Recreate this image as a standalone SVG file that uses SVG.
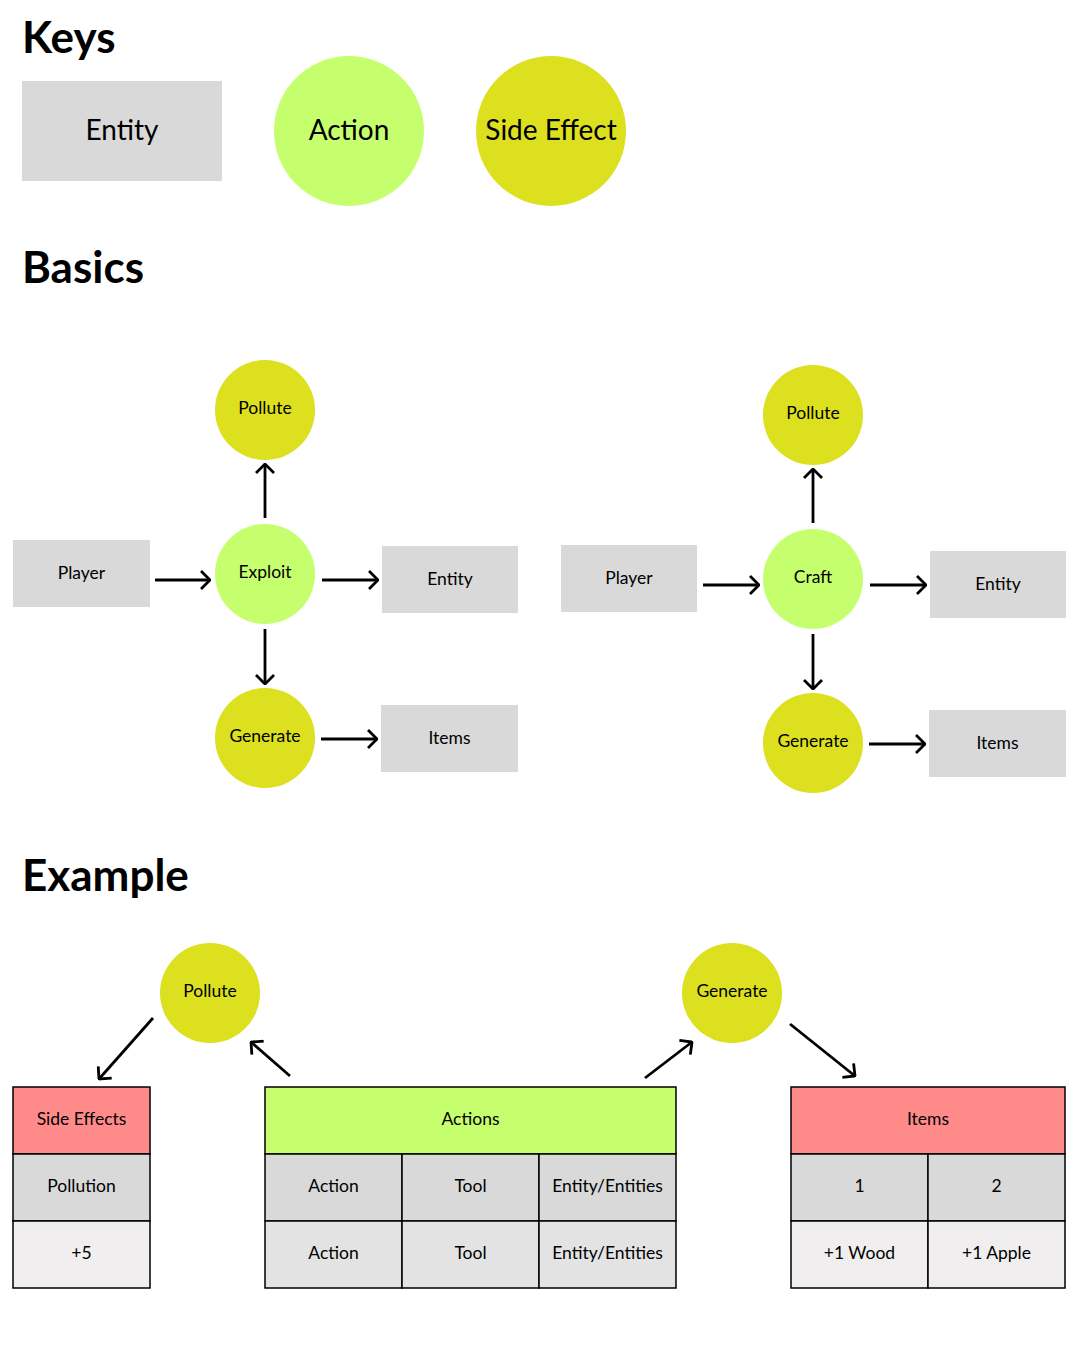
<svg xmlns="http://www.w3.org/2000/svg" width="1080" height="1346" viewBox="0 0 1080 1346">
<style>
text{font-family:Lato,"Open Sans","Liberation Sans",sans-serif;fill:#000;text-anchor:middle}
.h{font-weight:bold;font-size:44px;text-anchor:start}
.k{font-size:28px}
.n{font-size:17.5px}
.ent{fill:#D9D9D9}
.act{fill:#C6FF6E}
.se{fill:#DCE01E}
.red{fill:#FF8A8A;stroke:#000;stroke-width:1.5}
.g1{fill:#D9D9D9;stroke:#000;stroke-width:1.5}
.g2{fill:#E3E3E3;stroke:#000;stroke-width:1.5}
.g3{fill:#F0EEEF;stroke:#000;stroke-width:1.5}
.hdr{fill:#C6FF6E;stroke:#000;stroke-width:1.5}
#connectors path{stroke:#000;stroke-width:2.8;fill:none;marker-end:url(#arr)}
</style>
<defs>
<marker id="arr" viewBox="0 0 12 20" refX="11" refY="10" markerWidth="12" markerHeight="20" markerUnits="userSpaceOnUse" orient="auto">
<path d="M2,1 L11,10 L2,19" fill="none" stroke="#000" stroke-width="2.8"/>
</marker>
</defs>
<rect width="1080" height="1346" fill="#fff"/>
<text class="h" x="22" y="53">Keys</text>
<text class="h" x="22" y="283">Basics</text>
<text class="h" x="22" y="891">Example</text>

<g id="key-entity"><rect class="ent" x="22" y="81" width="200" height="100"/><text class="k" x="122" y="140">Entity</text></g>
<g id="key-action"><circle class="act" cx="349" cy="131" r="75"/><text class="k" x="349" y="140">Action</text></g>
<g id="key-side-effect"><circle class="se" cx="551" cy="131" r="75"/><text class="k" x="551" y="140">Side Effect</text></g>

<g id="b1-pollute"><circle class="se" cx="265" cy="410" r="50"/><text class="n" x="265" y="414">Pollute</text></g>
<g id="b1-exploit"><circle class="act" cx="265" cy="574" r="50"/><text class="n" x="265" y="578">Exploit</text></g>
<g id="b1-generate"><circle class="se" cx="265" cy="738" r="50"/><text class="n" x="265" y="742">Generate</text></g>
<g id="b1-player"><rect class="ent" x="13" y="540" width="137" height="67"/><text class="n" x="81.5" y="579">Player</text></g>
<g id="b1-entity"><rect class="ent" x="382" y="546" width="136" height="67"/><text class="n" x="450" y="585">Entity</text></g>
<g id="b1-items"><rect class="ent" x="381" y="705" width="137" height="67"/><text class="n" x="449.5" y="744">Items</text></g>

<g id="b2-pollute"><circle class="se" cx="813" cy="415" r="50"/><text class="n" x="813" y="419">Pollute</text></g>
<g id="b2-craft"><circle class="act" cx="813" cy="579" r="50"/><text class="n" x="813" y="583">Craft</text></g>
<g id="b2-generate"><circle class="se" cx="813" cy="743" r="50"/><text class="n" x="813" y="747">Generate</text></g>
<g id="b2-player"><rect class="ent" x="561" y="545" width="136" height="67"/><text class="n" x="629" y="584">Player</text></g>
<g id="b2-entity"><rect class="ent" x="930" y="551" width="136" height="67"/><text class="n" x="998" y="590">Entity</text></g>
<g id="b2-items"><rect class="ent" x="929" y="710" width="137" height="67"/><text class="n" x="997.5" y="749">Items</text></g>

<g id="ex-pollute"><circle class="se" cx="210" cy="993" r="50"/><text class="n" x="210" y="997">Pollute</text></g>
<g id="ex-generate"><circle class="se" cx="732" cy="993" r="50"/><text class="n" x="732" y="997">Generate</text></g>

<g id="table-side-effects">
<rect class="red" x="13" y="1087" width="137" height="67"/><text class="n" x="81.5" y="1125">Side Effects</text>
<rect class="g1" x="13" y="1154" width="137" height="67"/><text class="n" x="81.5" y="1192">Pollution</text>
<rect class="g3" x="13" y="1221" width="137" height="67"/><text class="n" x="81.5" y="1259">+5</text>
</g>

<g id="table-actions">
<rect class="hdr" x="265" y="1087" width="411" height="67"/><text class="n" x="470.5" y="1125">Actions</text>
<rect class="g1" x="265" y="1154" width="137" height="67"/><text class="n" x="333.5" y="1192">Action</text>
<rect class="g1" x="402" y="1154" width="137" height="67"/><text class="n" x="470.5" y="1192">Tool</text>
<rect class="g1" x="539" y="1154" width="137" height="67"/><text class="n" x="607.5" y="1192">Entity/Entities</text>
<rect class="g2" x="265" y="1221" width="137" height="67"/><text class="n" x="333.5" y="1259">Action</text>
<rect class="g2" x="402" y="1221" width="137" height="67"/><text class="n" x="470.5" y="1259">Tool</text>
<rect class="g2" x="539" y="1221" width="137" height="67"/><text class="n" x="607.5" y="1259">Entity/Entities</text>
</g>

<g id="table-items">
<rect class="red" x="791" y="1087" width="274" height="67"/><text class="n" x="928" y="1125">Items</text>
<rect class="g1" x="791" y="1154" width="137" height="67"/><text class="n" x="859.5" y="1192">1</text>
<rect class="g1" x="928" y="1154" width="137" height="67"/><text class="n" x="996.5" y="1192">2</text>
<rect class="g3" x="791" y="1221" width="137" height="67"/><text class="n" x="859.5" y="1259">+1 Wood</text>
<rect class="g3" x="928" y="1221" width="137" height="67"/><text class="n" x="996.5" y="1259">+1 Apple</text>
</g>

<g id="connectors">
<path d="M155,580 L210,580"/>
<path d="M322,580 L378,580"/>
<path d="M265,518 L265,464"/>
<path d="M265,629 L265,684"/>
<path d="M321,739 L377,739"/>
<path d="M703,585 L759,585"/>
<path d="M870,585 L926,585"/>
<path d="M813,523 L813,469"/>
<path d="M813,634 L813,689"/>
<path d="M869,744 L925,744"/>
<path d="M153,1018 L99,1079"/>
<path d="M290,1076 L251,1042"/>
<path d="M645,1078 L692,1042"/>
<path d="M790,1024 L855,1076"/>
</g>
</svg>
